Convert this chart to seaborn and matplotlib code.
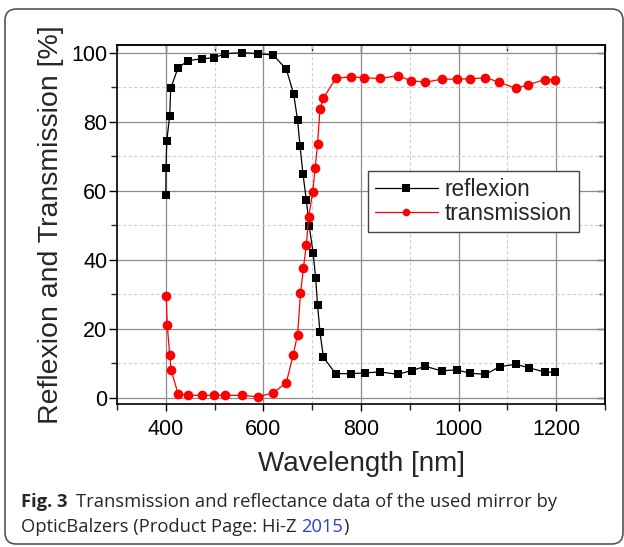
import matplotlib
matplotlib.use("Agg")
import matplotlib.pyplot as plt
from matplotlib.patches import FancyBboxPatch
from matplotlib.ticker import MultipleLocator
import seaborn as sns
import pandas as pd

# ---- data ----
wl_reflexion = [400, 400.5, 402, 408, 410, 425, 446, 474, 499, 522, 557, 588, 620, 647,
                662, 670, 675, 681, 688, 694, 702, 707, 711, 716, 723, 748, 780, 808,
                839, 875, 904, 932, 965, 996, 1023, 1055, 1084, 1117, 1144, 1178, 1198]
reflexion = [58.8, 66.5, 74.5, 81.7, 89.6, 95.6, 97.7, 98.2, 98.5, 99.7, 100.0, 99.7, 99.3,
             95.2, 88.0, 80.5, 73.0, 64.9, 57.3, 49.7, 41.8, 34.8, 26.8, 19.0, 11.7, 7.0,
             7.0, 7.2, 7.5, 6.8, 7.9, 9.1, 7.8, 8.1, 7.1, 6.8, 9.0, 9.7, 8.7, 7.4, 7.4]

wl_transmission = [401, 403, 408, 411, 425, 446, 474, 499, 522, 557, 588, 620, 647, 661,
                   670, 676, 682, 688, 693, 701, 706, 711, 716, 723, 748, 780, 807, 839,
                   875, 903, 932, 965, 996, 1023, 1055, 1083, 1117, 1143, 1177, 1198]
transmission = [29.4, 21.0, 12.4, 8.0, 1.2, 0.7, 0.7, 0.7, 0.7, 0.7, 0.3, 1.4, 4.4, 12.4,
                18.3, 30.3, 37.5, 44.4, 52.5, 59.6, 66.5, 73.6, 83.7, 86.8, 92.5, 93.0,
                92.7, 92.5, 93.3, 91.9, 91.4, 92.3, 92.3, 92.4, 92.7, 91.5, 89.6, 90.7,
                92.2, 92.2]

series_names = ["reflexion", "transmission"]
x_ticks = [400, 600, 800, 1000, 1200]
y_ticks = [0, 20, 40, 60, 80, 100]
x_label = "Wavelength [nm]"
y_label = "Reflexion and Transmission [%]"
caption_bold = "Fig. 3"
caption_line1 = "Transmission and reflectance data of the used mirror by"
caption_line2 = "OpticBalzers (Product Page: Hi-Z "
caption_year = "2015"
caption_end = ")"

df_r = pd.DataFrame({"wl": wl_reflexion, "val": reflexion})
df_t = pd.DataFrame({"wl": wl_transmission, "val": transmission})

sns.set_style("ticks")
plt.rcParams["font.family"] = ["Liberation Sans", "DejaVu Sans"]

fig = plt.figure(figsize=(6.24, 5.47), dpi=100)
ax = fig.add_axes([117/624, 1-404/547, 488/624, 359/547])

sns.lineplot(data=df_r, x="wl", y="val", ax=ax, color="black", marker="s",
             markersize=6.0, markeredgewidth=0, linewidth=0.9, sort=False,
             estimator=None, label=series_names[0])
sns.lineplot(data=df_t, x="wl", y="val", ax=ax, color="#ff0000", marker="o",
             markersize=7.0, markeredgewidth=0, linewidth=0.9, sort=False,
             estimator=None, label=series_names[1])

ax.set_xlim(300, 1300)
ax.set_ylim(-1.8, 102.2)
ax.set_xticks(x_ticks)
ax.set_yticks(y_ticks)
ax.xaxis.set_minor_locator(MultipleLocator(100))
ax.yaxis.set_minor_locator(MultipleLocator(10))

ax.grid(True, which="major", color="#8c8c8c", linewidth=0.9, linestyle="-")
ax.grid(True, which="minor", color="#cfcfcf", linewidth=0.8, linestyle=(0, (3, 2)))
ax.set_axisbelow(True)

for s in ax.spines.values():
    s.set_visible(True)
    s.set_linewidth(1.2)
    s.set_color("black")

ax.tick_params(axis="both", which="major", labelsize=15.5, colors="black")
ax.tick_params(axis="y", which="major", direction="out", length=6, width=1, pad=1)
ax.tick_params(axis="y", which="minor", direction="out", length=4, width=1)
ax.tick_params(axis="x", which="major", direction="out", length=5, width=1, pad=6)
ax.tick_params(axis="x", which="minor", direction="out", length=4, width=1)
# inward ticks on top and right
ax2 = ax.secondary_xaxis("top")
ax2.set_xticks(x_ticks)
ax2.xaxis.set_minor_locator(MultipleLocator(100))
ax2.tick_params(which="major", direction="in", length=6, width=1, labeltop=False)
ax2.tick_params(which="minor", direction="in", length=4, width=1)
ay2 = ax.secondary_yaxis("right")
ay2.set_yticks(y_ticks)
ay2.yaxis.set_minor_locator(MultipleLocator(10))
ay2.tick_params(which="major", direction="in", length=6, width=1, labelright=False)
ay2.tick_params(which="minor", direction="in", length=4, width=1)
for sa in (ax2, ay2):
    for s in sa.spines.values():
        s.set_linewidth(1.2)

ax.set_xlabel(x_label, fontsize=20, labelpad=8)
ax.set_ylabel(y_label, fontsize=20.5, labelpad=5)

leg = ax.legend(loc="upper left", bbox_to_anchor=((368-117)/488, (404-171)/359),
                borderaxespad=0, fontsize=16.3, frameon=True, fancybox=False,
                handlelength=2.8, handletextpad=0.3, labelspacing=0.05,
                borderpad=0.3)
leg.get_frame().set_edgecolor("#444444")
leg.get_frame().set_linewidth(1.0)
leg.get_frame().set_alpha(1)
for h in leg.legend_handles:
    h.set_markersize(5.5)

# caption
cap_fam = ["Open Sans", "DejaVu Sans"]
cap_fs = 13.2
y1 = 1 - 507/547
y2 = 1 - 532/547
t1 = fig.text(21/624, y1, caption_bold, fontsize=cap_fs, fontweight="bold",
              family=cap_fam, ha="left", va="baseline")
fig.canvas.draw()
bb = t1.get_window_extent()
fig.text((bb.x1 + 8)/624, y1, caption_line1, fontsize=cap_fs, family=cap_fam,
         ha="left", va="baseline")
t3 = fig.text(21/624, y2, caption_line2, fontsize=cap_fs, family=cap_fam,
              ha="left", va="baseline")
fig.canvas.draw()
bb3 = t3.get_window_extent()
t4 = fig.text(bb3.x1/624, y2, caption_year, fontsize=cap_fs, family=cap_fam,
              color="#2b3fd6", ha="left", va="baseline")
fig.canvas.draw()
bb4 = t4.get_window_extent()
fig.text(bb4.x1/624, y2, caption_end, fontsize=cap_fs, family=cap_fam,
         ha="left", va="baseline")

# rounded frame around the figure
frame = FancyBboxPatch((5/624, 1-544/547), 618/624, 535/547,
                       boxstyle="round,pad=0,rounding_size=0.018",
                       transform=fig.transFigure, fill=False,
                       edgecolor="#555555", linewidth=1.2, mutation_aspect=624/547)
fig.patches.append(frame)

fig.savefig("out.png", dpi=100)
